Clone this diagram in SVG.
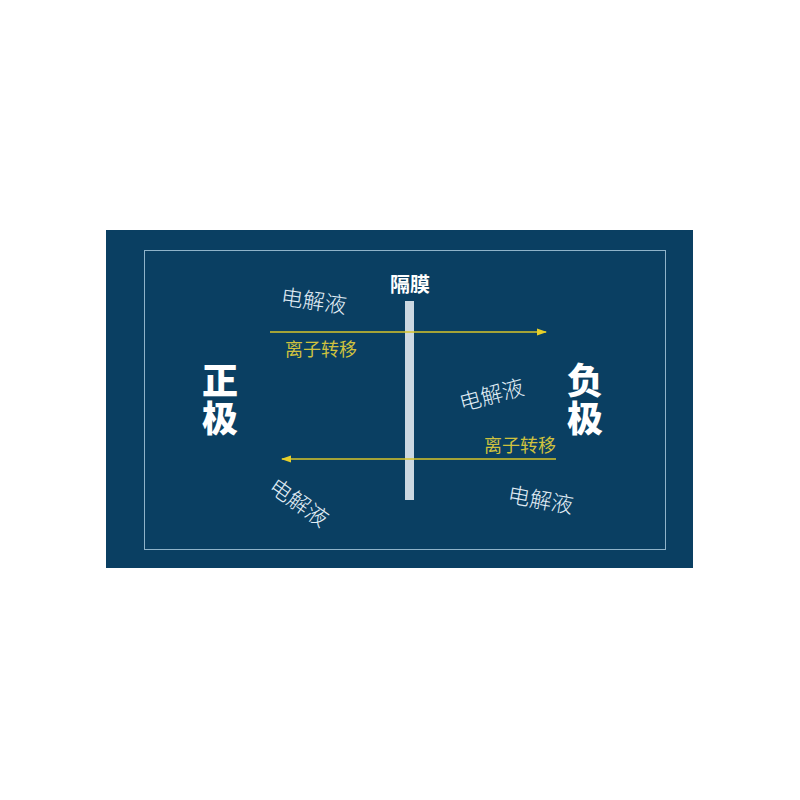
<svg xmlns="http://www.w3.org/2000/svg" width="800" height="800" viewBox="0 0 800 800">
<defs>
<style>
.ely{font-family:"Noto Sans CJK SC","Noto Sans",sans-serif;font-size:22px;fill:#e2eef6;font-weight:300;text-anchor:middle;dominant-baseline:central}
.ion{font-family:"Noto Sans CJK SC","Noto Sans",sans-serif;font-size:18px;fill:#cfc23e;text-anchor:middle;dominant-baseline:central}
.pole{font-family:"Noto Sans CJK SC","Noto Sans",sans-serif;font-size:36px;fill:#ffffff;font-weight:900;writing-mode:vertical-rl;letter-spacing:2px}
.ln{stroke:#d8c62a;stroke-width:1.5;fill:none}
</style>
<marker id="ah" markerWidth="10" markerHeight="8" refX="9" refY="4" orient="auto" markerUnits="userSpaceOnUse">
<path d="M0,0.5 L10,4 L0,7.5 Z" fill="#e6cf2a"/>
</marker>
</defs>
<rect x="0" y="0" width="800" height="800" fill="#ffffff"/>
<rect id="bg" x="106" y="230" width="587" height="338" fill="#0a3f62"/>
<rect id="frame" x="144.5" y="250.5" width="521" height="299" fill="none" stroke="#8fb3c9" stroke-width="1"/>
<g id="separator">
<rect x="405" y="301" width="9" height="199" fill="#cbd8e2"/>
<text x="410" y="283" font-family="Noto Sans CJK SC, sans-serif" font-size="20" font-weight="700" fill="#ffffff" text-anchor="middle" dominant-baseline="central">隔膜</text>
</g>
<g id="positive">
<text class="pole" x="220" y="362">正极</text>
</g>
<g id="negative">
<text class="pole" x="585" y="362">负极</text>
</g>
<g id="electrolyte-labels">
<text class="ely" x="314" y="299" transform="rotate(8 314 299)">电解液</text>
<text class="ely" x="491" y="393" transform="rotate(-15 491 393)">电解液</text>
<text class="ely" x="541" y="498" transform="rotate(10 541 498)">电解液</text>
<text class="ely" x="300" y="501" transform="rotate(35 300 501)">电解液</text>
</g>
<g id="ion-labels">
<text class="ion" x="321" y="348">离子转移</text>
<text class="ion" x="520" y="444">离子转移</text>
</g>
<g id="connectors">
<line class="ln" x1="270" y1="332" x2="546" y2="332" marker-end="url(#ah)"/>
<line class="ln" x1="556" y1="459" x2="282" y2="459" marker-end="url(#ah)"/>
</g>
</svg>
